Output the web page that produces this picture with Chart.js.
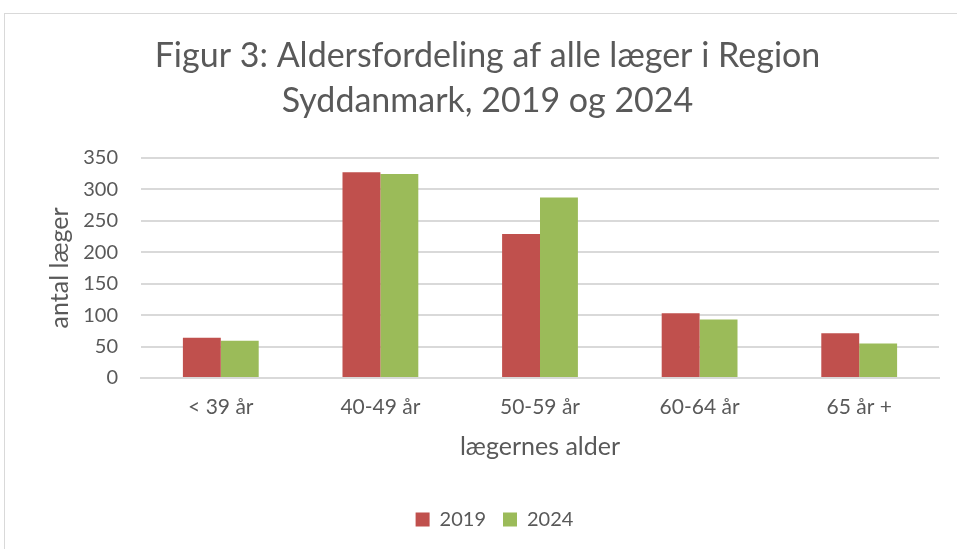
<!DOCTYPE html>
<html>
<head>
<meta charset="utf-8">
<script src="https://cdn.jsdelivr.net/npm/chart.js@4.4.1/dist/chart.umd.min.js"></script>
<style>
  html, body { margin: 0; padding: 0; background: #fff; }
  #wrap { position: relative; width: 957px; height: 549px; overflow: hidden; }
  #frame { position: absolute; left: 4px; top: 13px; width: 1000px; height: 600px; border: 1px solid #d9d9d9; box-sizing: border-box; }
  canvas { position: absolute; left: 0; top: 0; }
</style>
</head>
<body>
<div id="wrap">
  <div id="frame"></div>
  <canvas id="chart" width="957" height="549"></canvas>
</div>
<script>
const categories = ['< 39 år', '40-49 år', '50-59 år', '60-64 år', '65 år +'];
const values2019 = [64, 327, 229, 103, 71];
const values2024 = [59, 324, 287, 93, 55];
const yTicks = [0, 50, 100, 150, 200, 250, 300, 350];

const fontFam = "Lato, 'Open Sans', sans-serif";
const grey = '#595959';

// titel og legende står lidt til højre for midten, som i Excel
const shiftBlocks = {
    id: 'shiftBlocks',
    afterLayout(chart) {
        chart.legend.left += 25;
        chart.legend.right += 25;
        chart.titleBlock.left += 18;
        chart.titleBlock.right += 18;
    }
};

const ctx = document.getElementById('chart').getContext('2d');
const chart = new Chart(ctx, {
    type: 'bar',
    data: {
        labels: categories,
        datasets: [{
            label: '2019',
            data: values2019,
            backgroundColor: '#c0504d',
            borderWidth: 0
        }, {
            label: '2024',
            data: values2024,
            backgroundColor: '#9bbb59',
            borderWidth: 0
        }]
    },
    options: {
        responsive: false,
        animation: false,
        layout: {
            padding: { left: 0, right: 18, top: 34, bottom: 9.5 }
        },
        datasets: {
            bar: { categoryPercentage: 0.475, barPercentage: 1 }
        },
        plugins: {
            title: {
                display: true,
                text: ['Figur 3: Aldersfordeling af alle læger i Region', 'Syddanmark, 2019 og 2024'],
                color: grey,
                font: { family: fontFam, size: 34, weight: 'normal', lineHeight: 1.32 },
                padding: { top: 0, bottom: 34 }
            },
            legend: {
                position: 'bottom',
                labels: {
                    color: grey,
                    font: { family: fontFam, size: 20 },
                    boxWidth: 14,
                    boxHeight: 14,
                    padding: 17
                }
            },
            tooltip: { enabled: false }
        },
        scales: {
            x: {
                grid: { display: false, drawTicks: false },
                border: { color: '#d9d9d9', width: 2 },
                ticks: {
                    color: grey,
                    font: { family: fontFam, size: 21 },
                    padding: 17
                },
                title: {
                    display: true,
                    text: 'lægernes alder',
                    color: grey,
                    font: { family: fontFam, size: 25 },
                    padding: { top: 0, bottom: 30.5 }
                },
                afterFit: axis => { axis.height = 114.5; }
            },
            y: {
                min: 0,
                max: 350,
                afterBuildTicks: axis => { axis.ticks = yTicks.map(v => ({ value: v })); },
                grid: { color: '#d9d9d9', lineWidth: 2, drawTicks: false },
                border: { display: false },
                ticks: {
                    color: grey,
                    font: { family: fontFam, size: 20 },
                    padding: 23
                },
                title: {
                    display: true,
                    text: 'antal læger',
                    color: grey,
                    font: { family: fontFam, size: 25 },
                    padding: { top: 45, bottom: 0 }
                },
                afterFit: axis => { axis.width = 141; }
            }
        }
    },
    plugins: [shiftBlocks]
});
</script>
</body>
</html>
